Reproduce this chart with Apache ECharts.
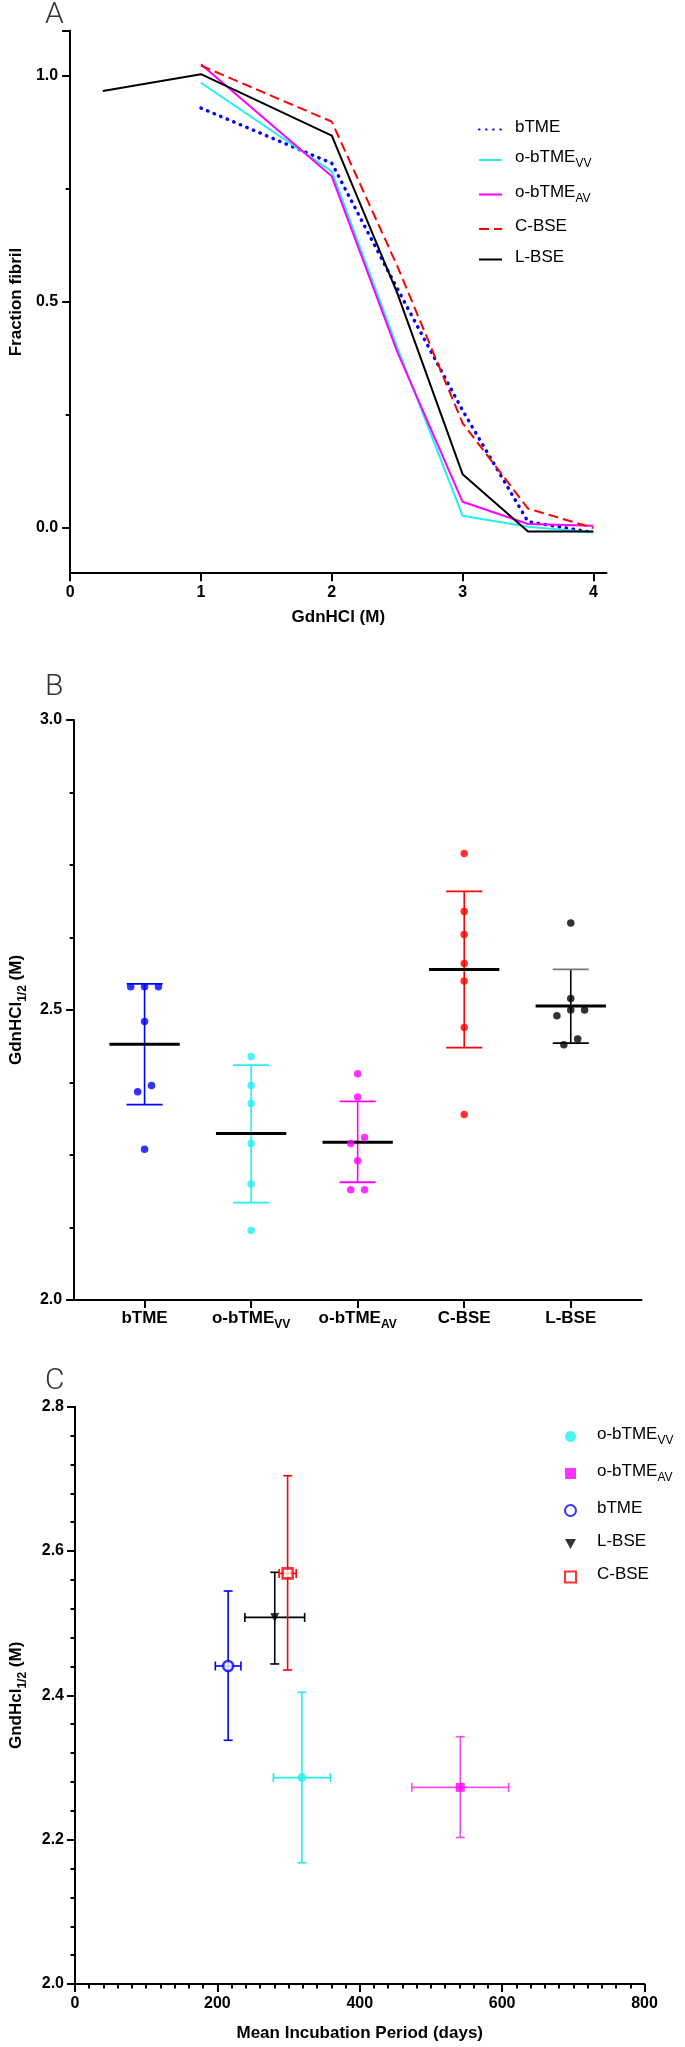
<!DOCTYPE html>
<html><head><meta charset="utf-8">
<script src="https://cdn.jsdelivr.net/npm/echarts@6/dist/echarts.min.js"></script>
<style>html,body{margin:0;padding:0;background:#fff}#c{width:685px;height:2047px}</style>
</head><body><div id="c"></div>
<script>
// ---------- Panel A data ----------
const gdnConc = [0.25, 1, 2, 2.5, 3, 3.5, 4];
const aBTME  = [null, 0.929, 0.807, 0.53, 0.26, 0.014, -0.01];
const aVV    = [null, 0.985, 0.789, 0.40, 0.027, 0.003, -0.01];
const aAV    = [null, 1.026, 0.778, 0.39, 0.058, 0.009, 0.005];
const aCBSE  = [null, 1.023, 0.899, 0.58, 0.232, 0.043, 0.0];
const aLBSE  = [0.967, 1.004, 0.868, 0.52, 0.119, -0.008, -0.008];
const aXTicks = [0, 1, 2, 3, 4];
const aYTicks = [0, 0.5, 1.0];

// ---------- Panel B data ----------
const bCategories = ['bTME', 'o-bTMEVV', 'o-bTMEAV', 'C-BSE', 'L-BSE'];
const bPtsBTME = [2.540, 2.540, 2.540, 2.480, 2.359, 2.370, 2.260];
const bJitBTME = [-0.13, 0, 0.13, 0, -0.065, 0.065, 0];
const bPtsVV   = [2.420, 2.370, 2.339, 2.270, 2.200, 2.120];
const bJitVV   = [0, 0, 0, 0, 0, 0];
const bPtsAV   = [2.390, 2.350, 2.280, 2.270, 2.240, 2.190, 2.190];
const bJitAV   = [0, 0, 0.065, -0.065, 0, -0.065, 0.065];
const bPtsCBSE = [2.770, 2.670, 2.630, 2.580, 2.550, 2.470, 2.320];
const bJitCBSE = [0, 0, 0, 0, 0, 0, 0];
const bPtsLBSE = [2.650, 2.520, 2.490, 2.500, 2.500, 2.450, 2.440];
const bJitLBSE = [0, 0, -0.13, 0, 0.13, 0.065, -0.065];
const bMean = [2.441, 2.287, 2.272, 2.570, 2.507];
const bLo   = [2.337, 2.168, 2.203, 2.435, 2.443];
const bHi   = [2.545, 2.405, 2.3425, 2.7045, 2.570];

// ---------- Panel C data ----------
const cNames    = ['o-bTMEVV', 'o-bTMEAV', 'bTME', 'L-BSE', 'C-BSE'];
const cIncub    = [318.7, 541.2, 215.1, 280.6, 298.7];
const cIncubErr = [40, 68, 18, 42, 12];
const cGdn      = [2.286, 2.2725, 2.4407, 2.508, 2.569];
const cGdnLo    = [2.168, 2.203, 2.3377, 2.4435, 2.4351];
const cGdnHi    = [2.4042, 2.3427, 2.5446, 2.5705, 2.7044];

// ---------- styling ----------
const FONT = '"Liberation Sans", Arial, Helvetica, sans-serif';
const COL = {
  'bTME': '#0000FF', 'o-bTMEVV': '#22F0F0', 'o-bTMEAV': '#FF00FF',
  'C-BSE': '#FF0000', 'L-BSE': '#000000'
};
const RICH_LABEL = {
  'bTME': '{m|bTME}', 'o-bTMEVV': '{m|o-bTME}{s|VV}', 'o-bTMEAV': '{m|o-bTME}{s|AV}',
  'C-BSE': '{m|C-BSE}', 'L-BSE': '{m|L-BSE}'
};
function richSet(size, weight, sub, gap) {
  return {
    g: {width: gap || 0, height: 1, verticalAlign: 'top'},
    m: {fontSize: size, fontWeight: weight, fontFamily: FONT, color: '#000', lineHeight: 22, verticalAlign: 'top'},
    s: {fontSize: sub, fontWeight: weight, fontFamily: FONT, color: '#000', verticalAlign: 'top', padding: [9, 0, 0, 0]}
  };
}
const axisLine = {show: true, onZero: false, lineStyle: {color: '#000', width: 2}};
const tickLabel = {color: '#000', fontSize: 16, fontWeight: 'bold', fontFamily: FONT};

function pairs(xs, ys) {
  const out = [];
  xs.forEach((x, i) => { if (ys[i] !== null) out.push([x, ys[i]]); });
  return out;
}

// ---------- Panel A series ----------
const aSeries = [
  {name: 'A:bTME', data: pairs(gdnConc, aBTME), lineStyle: {color: COL['bTME'], width: 3.4, type: [0.5, 6.6], cap: 'round'}},
  {name: 'A:o-bTMEVV', data: pairs(gdnConc, aVV), lineStyle: {color: COL['o-bTMEVV'], width: 2}},
  {name: 'A:o-bTMEAV', data: pairs(gdnConc, aAV), lineStyle: {color: COL['o-bTMEAV'], width: 2}},
  {name: 'A:C-BSE', data: pairs(gdnConc, aCBSE), lineStyle: {color: COL['C-BSE'], width: 2, type: [10, 5]}},
  {name: 'A:L-BSE', data: pairs(gdnConc, aLBSE), lineStyle: {color: COL['L-BSE'], width: 2}}
].map(s => Object.assign({
  type: 'line', xAxisIndex: 0, yAxisIndex: 0, symbol: 'none',
  itemStyle: {color: s.lineStyle.color}
}, s));

// ---------- Panel B series ----------
const bPts = [bPtsBTME, bPtsVV, bPtsAV, bPtsCBSE, bPtsLBSE];
const bJit = [bJitBTME, bJitVV, bJitAV, bJitCBSE, bJitLBSE];
const bCapTop = ['#0000FF', '#22F0F0', '#FF00FF', '#FF0000', '#777777'];
const bSeries = [];
bCategories.forEach((cat, i) => {
  bSeries.push({
    type: 'custom', name: 'B:err:' + cat, xAxisIndex: 1, yAxisIndex: 2, z: 2,
    itemStyle: {color: COL[cat]},
    data: [[i, bMean[i], bLo[i], bHi[i]]],
    renderItem: function (params, api) {
      const x = api.value(0), m = api.value(1), lo = api.value(2), hi = api.value(3);
      const c = api.visual('color');
      const pLo = api.coord([x, lo]), pHi = api.coord([x, hi]);
      const m1 = api.coord([x - 0.33, m]), m2 = api.coord([x + 0.33, m]);
      const cap = 18;
      return {type: 'group', children: [
        {type: 'line', shape: {x1: pLo[0], y1: pLo[1], x2: pHi[0], y2: pHi[1]}, style: {stroke: c, lineWidth: 1.6}},
        {type: 'line', shape: {x1: pLo[0] - cap, y1: pLo[1], x2: pLo[0] + cap, y2: pLo[1]}, style: {stroke: c, lineWidth: 1.8}},
        {type: 'line', shape: {x1: pHi[0] - cap, y1: pHi[1], x2: pHi[0] + cap, y2: pHi[1]}, style: {stroke: bCapTop[i], lineWidth: 1.8}},
        {type: 'line', shape: {x1: m1[0], y1: m1[1], x2: m2[0], y2: m2[1]}, style: {stroke: '#000', lineWidth: 3}}
      ]};
    }
  });
  bSeries.push({
    type: 'scatter', name: 'B:' + cat, xAxisIndex: 1, yAxisIndex: 2, z: 3,
    symbol: 'circle', symbolSize: 7.5, itemStyle: {color: COL[cat]},
    data: bPts[i].map((v, k) => [i + bJit[i][k], v])
  });
});

// ---------- Panel C series ----------
const cSym = {
  'o-bTMEVV': {symbol: 'circle', size: 9, style: {color: COL['o-bTMEVV']}},
  'o-bTMEAV': {symbol: 'rect', size: 9, style: {color: COL['o-bTMEAV']}},
  'bTME': {symbol: 'circle', size: 10, style: {color: '#fff', borderColor: COL['bTME'], borderWidth: 2.6}},
  'L-BSE': {symbol: 'path://M0,0L10,0L5,9Z', size: [9, 9], style: {color: '#000'}},
  'C-BSE': {symbol: 'rect', size: 10, style: {color: '#fff', borderColor: COL['C-BSE'], borderWidth: 2.6}}
};
const cSeries = [];
cNames.forEach((nm, i) => {
  cSeries.push({
    type: 'custom', name: 'Cerr:' + nm, xAxisIndex: 2, yAxisIndex: 3, z: 2,
    itemStyle: {color: nm === 'o-bTMEAV' ? '#F050F0' : COL[nm]},
    data: [[cIncub[i], cGdn[i], cIncubErr[i], cGdnLo[i], cGdnHi[i]]],
    renderItem: function (params, api) {
      const x = api.value(0), y = api.value(1), xe = api.value(2), lo = api.value(3), hi = api.value(4);
      const c = api.visual('color');
      const pL = api.coord([x - xe, y]), pR = api.coord([x + xe, y]);
      const pLo = api.coord([x, lo]), pHi = api.coord([x, hi]);
      const cap = 4.5;
      const ln = (a, b, cc, dd) => ({type: 'line', shape: {x1: a, y1: b, x2: cc, y2: dd}, style: {stroke: c, lineWidth: 1.6}});
      return {type: 'group', children: [
        ln(pL[0], pL[1], pR[0], pR[1]),
        ln(pL[0], pL[1] - cap, pL[0], pL[1] + cap),
        ln(pR[0], pR[1] - cap, pR[0], pR[1] + cap),
        ln(pLo[0], pLo[1], pHi[0], pHi[1]),
        ln(pLo[0] - cap, pLo[1], pLo[0] + cap, pLo[1]),
        ln(pHi[0] - cap, pHi[1], pHi[0] + cap, pHi[1])
      ]};
    }
  });
  const s = cSym[nm];
  cSeries.push({
    type: 'scatter', name: 'C:' + nm, xAxisIndex: 2, yAxisIndex: 3, z: 3,
    symbol: s.symbol, symbolSize: s.size,
    itemStyle: s.style,
    data: [[cIncub[i], cGdn[i]]]
  });
});

const letterStyle = {fontSize: 30, fontWeight: 300, color: '#333', fontFamily: 'Roboto, "Liberation Sans", sans-serif'};

const option = {
  animation: false,
  backgroundColor: '#fff',
  textStyle: {fontFamily: FONT},
  title: [
    {text: 'A', left: 45, top: 0, padding: 0, textStyle: letterStyle},
    {text: 'B', left: 45, top: 672, padding: 0, textStyle: letterStyle},
    {text: 'C', left: 45, top: 1366, padding: 0, textStyle: letterStyle}
  ],
  grid: [
    {left: 66.5, top: 30.8, width: 540, height: 542.4},
    {left: 66.5, top: 720, width: 575, height: 580},
    {left: 70, top: 1406.7, width: 574.5, height: 577.3}
  ],
  legend: [
    {
      orient: 'vertical', left: 478, top: 113, padding: 0, itemGap: 8,
      itemWidth: 23, itemHeight: 14,
      itemStyle: {opacity: 0},
      data: ['A:bTME', 'A:o-bTMEVV', 'A:o-bTMEAV', 'A:C-BSE', 'A:L-BSE'],
      formatter: n => '{g|}' + RICH_LABEL[n.slice(2)],
      textStyle: {rich: richSet(17, 'normal', 12, 8)}
    },
    {
      orient: 'vertical', left: 564, top: 1420, padding: 0, itemGap: 10.5,
      itemWidth: 11, itemHeight: 11,
      data: cNames.map(n => 'C:' + n),
      formatter: n => '{g|}' + RICH_LABEL[n.slice(2)],
      textStyle: {rich: richSet(17, 'normal', 12, 16)}
    }
  ],
  xAxis: [
    {
      type: 'value', gridIndex: 0, min: 0, max: 4.1,
      axisLine: axisLine, splitLine: {show: false},
      axisTick: {customValues: aXTicks, length: 8, lineStyle: {color: '#000', width: 2}},
      axisLabel: Object.assign({customValues: aXTicks, margin: 11}, tickLabel),
      name: 'GdnHCl (M)', nameLocation: 'middle', nameGap: 36,
      nameTextStyle: {fontSize: 17, fontWeight: 'bold', color: '#000', fontFamily: FONT}
    },
    {
      type: 'value', gridIndex: 1, min: -0.661, max: 4.664,
      axisLine: axisLine, splitLine: {show: false},
      axisTick: {customValues: [0, 1, 2, 3, 4], length: 8, lineStyle: {color: '#000', width: 2}},
      axisLabel: {customValues: [0, 1, 2, 3, 4], margin: 10,
        formatter: v => RICH_LABEL[bCategories[Math.round(v)]],
        rich: richSet(17, 'bold', 12)}
    },
    {
      type: 'value', gridIndex: 2, min: 0, max: 800, interval: 200,
      axisLine: axisLine, splitLine: {show: false},
      axisTick: {length: 8, lineStyle: {color: '#000', width: 2}},
      minorTick: {show: true, splitNumber: 10, length: 4.5, lineStyle: {color: '#000', width: 2}},
      axisLabel: Object.assign({margin: 12}, tickLabel),
      name: 'Mean Incubation Period (days)', nameLocation: 'middle', nameGap: 41,
      nameTextStyle: {fontSize: 17, fontWeight: 'bold', color: '#000', fontFamily: FONT}
    }
  ],
  yAxis: [
    {
      type: 'value', gridIndex: 0, min: -0.1, max: 1.1, position: 'left',
      axisLine: axisLine, splitLine: {show: false},
      axisTick: {customValues: [0, 0.5, 1.0, 1.1], length: 8, lineStyle: {color: '#000', width: 2}},
      axisLabel: Object.assign({customValues: aYTicks, margin: 12, formatter: v => v.toFixed(1)}, tickLabel),
      name: 'Fraction fibril', nameLocation: 'middle', nameGap: 43,
      nameTextStyle: {fontSize: 17, fontWeight: 'bold', color: '#000', fontFamily: FONT}
    },
    {
      type: 'value', gridIndex: 0, min: -0.1, max: 1.1, position: 'left', offset: 0,
      axisLine: {show: false, onZero: false}, splitLine: {show: false},
      axisTick: {customValues: [0.25, 0.75], length: 4.5, lineStyle: {color: '#000', width: 2}},
      axisLabel: {show: false}
    },
    {
      type: 'value', gridIndex: 1, min: 2, max: 3, interval: 0.5, position: 'left',
      axisLine: axisLine, splitLine: {show: false},
      axisTick: {length: 8, lineStyle: {color: '#000', width: 2}},
      minorTick: {show: true, splitNumber: 4, length: 4.5, lineStyle: {color: '#000', width: 2}},
      axisLabel: Object.assign({margin: 12, formatter: v => v.toFixed(1)}, tickLabel),
      name: '{m|GdnHCl}{s|1/2}{m| (M)}', nameLocation: 'middle', nameGap: 42,
      nameTextStyle: {rich: richSet(17, 'bold', 12)}
    },
    {
      type: 'value', gridIndex: 2, min: 2, max: 2.8, interval: 0.2, position: 'left',
      axisLine: axisLine, splitLine: {show: false},
      axisTick: {length: 8, lineStyle: {color: '#000', width: 2}},
      minorTick: {show: true, splitNumber: 5, length: 4.5, lineStyle: {color: '#000', width: 2}},
      axisLabel: Object.assign({margin: 11, formatter: v => v.toFixed(1)}, tickLabel),
      name: '{m|GndHcl}{s|1/2}{m| (M)}', nameLocation: 'middle', nameGap: 45,
      nameTextStyle: {rich: richSet(17, 'bold', 12)}
    }
  ],
  series: [].concat(aSeries, bSeries, cSeries)
};

const chart = echarts.init(document.getElementById('c'), null, {renderer: 'canvas'});
chart.setOption(option);
</script>
</body></html>
